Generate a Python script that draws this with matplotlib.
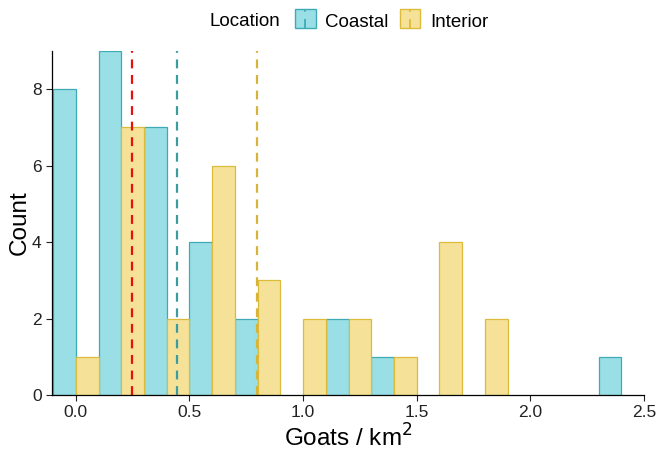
import matplotlib
matplotlib.use("Agg")
import matplotlib.pyplot as plt
import numpy as np
from matplotlib.legend_handler import HandlerBase
from matplotlib.patches import Rectangle
from matplotlib.lines import Line2D
from matplotlib.offsetbox import HPacker

plt.rcParams["font.family"] = ["Liberation Sans", "DejaVu Sans"]

# bin centres (width 0.2), bars dodged: coastal left half, interior right half
bin_centres = [0.0, 0.2, 0.4, 0.6, 0.8, 1.0, 1.2, 1.4, 1.6, 1.8, 2.0, 2.2, 2.4]
coastal = [8, 9, 7, 4, 2, 0, 2, 1, 0, 0, 0, 0, 1]
interior = [1, 7, 2, 6, 3, 2, 2, 1, 4, 2, 0, 0, 0]
labels = ["Coastal", "Interior"]
overall_mean = 0.245
group_means = [0.443, 0.798]

fills = ["#9ADFE5", "#F5E298"]
edges = ["#3DAAB6", "#DDBB3A"]
mean_cols = ["#3A9C9E", "#D6B33A"]

fig = plt.figure(figsize=(6.57, 4.54), dpi=100)
ax = fig.add_axes([52 / 657, 59 / 454, 592 / 657, 344 / 454])

x = np.array(bin_centres)
w = 0.1
for vals, off, fc, ec in zip([coastal, interior], [-w / 2, w / 2], fills, edges):
    v = np.array(vals)
    keep = v > 0
    ax.bar(x[keep] + off, v[keep], width=w, color=fc, edgecolor=ec, linewidth=0.9)

ax.axvline(overall_mean, color="#E8100F", ls=(0, (4, 3)), lw=1.6)
for m, c in zip(group_means, mean_cols):
    ax.axvline(m, color=c, ls=(0, (4, 3)), lw=1.6)

ax.set_xlim(-0.105, 2.5)
ax.set_ylim(0, 9)
ax.set_xticks([0.0, 0.5, 1.0, 1.5, 2.0, 2.5])
ax.set_xticklabels(["0.0", "0.5", "1.0", "1.5", "2.0", "2.5"])
ax.set_yticks([0, 2, 4, 6, 8])
ax.tick_params(labelsize=12.5, colors="#222222", length=4, width=0.8)
for s in ["top", "right"]:
    ax.spines[s].set_visible(False)
for s in ["left", "bottom"]:
    ax.spines[s].set_linewidth(0.9)
ax.set_xlabel("Goats / km$^2$", fontsize=17.5, labelpad=3)
ax.set_ylabel("Count", fontsize=17.5, labelpad=1)


class KeyHandler(HandlerBase):
    def create_artists(self, legend, orig, xd, yd, width, height, fontsize, trans):
        fc, ec = orig
        y0 = -yd + 1.5
        r = Rectangle((-xd, y0), width, height, facecolor=fc, edgecolor=ec,
                      lw=1.0, transform=trans)
        xm = -xd + width / 2
        l = Line2D([xm, xm], [y0, y0 + height], color=ec, lw=1.3,
                   ls=(0, (5, 4)), transform=trans)
        return [r, l]


handles = [(f, e) for f, e in zip(fills, edges)]
leg = fig.legend(handles, labels, handler_map={tuple: KeyHandler()},
                 loc="center", bbox_to_anchor=(0.531, 1 - 21 / 454), ncol=2,
                 frameon=False, fontsize=13.5, title="Location",
                 handlelength=1.07, handleheight=1.17, columnspacing=0.6,
                 handletextpad=0.53, borderpad=0.0)
leg.get_title().set_fontsize(13.5)
# put title beside the keys, ggplot style
box = leg._legend_box
box.__class__ = HPacker
box.sep = 11
box.align = "center"

fig.savefig("out.png", dpi=100)
